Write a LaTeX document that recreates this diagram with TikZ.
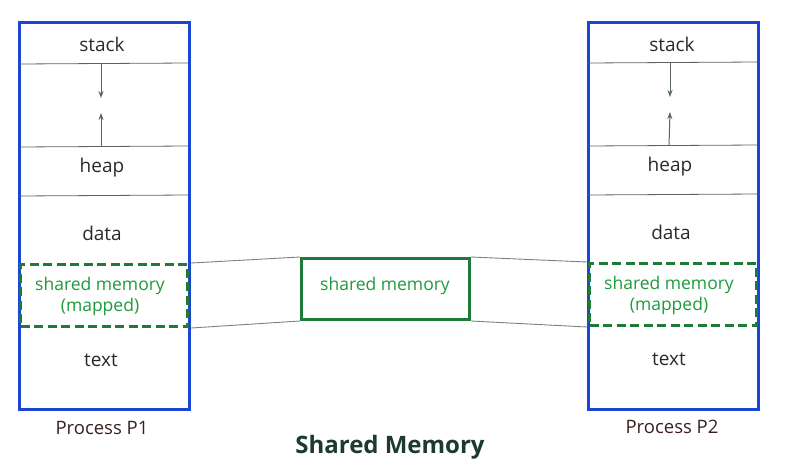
\documentclass[tikz,border=0pt]{standalone}
\usepackage{fontspec}
\setmainfont{Open Sans}
\usetikzlibrary{arrows.meta}
\definecolor{pblue}{HTML}{1A45D6}
\definecolor{sgreen}{HTML}{1E7A38}
\definecolor{tgreen}{HTML}{1E9A3A}
\definecolor{tdark}{HTML}{2A2A2A}
\definecolor{pbrown}{HTML}{3A2020}
\definecolor{ttl}{HTML}{1C3A2E}
\definecolor{sep}{HTML}{5A6460}
\tikzset{
  procbox/.style={draw=pblue, line width=3.2pt, minimum width=170pt, minimum height=387pt, anchor=north west, inner sep=0pt},
  mapbox/.style={draw=sgreen, line width=3pt, dash pattern=on 9pt off 4.5pt, minimum width=167pt, minimum height=62pt, anchor=north west, inner sep=0pt},
  shbox/.style={draw=sgreen, line width=3pt, minimum width=168pt, minimum height=61pt, anchor=north west, inner sep=0pt},
  lbl/.style={text=tdark, font=\fontsize{19}{22}\selectfont},
  glbl/.style={text=tgreen, font=\fontsize{17.5}{21}\selectfont, align=center},
  plbl/.style={text=pbrown, font=\fontsize{18.5}{22}\selectfont},
  seg/.style={draw=sep, line width=0.8pt},
  link/.style={draw=sep!80, line width=0.9pt},
  growarrow/.style={draw=sep, line width=1pt, -{Stealth[length=7pt,width=5pt]}}
}
\begin{document}
\begin{tikzpicture}[x=1pt,y=-1pt]
\useasboundingbox (0,0) rectangle (793,467);
% Process P1
\node[procbox] (p1) at (18,21) {};
\coordinate (p1s1l) at (18,64); \coordinate (p1s1r) at (188,63);
\coordinate (p1s2l) at (18,147); \coordinate (p1s2r) at (188,146);
\coordinate (p1s3l) at (18,196); \coordinate (p1s3r) at (188,195);
\draw[seg] (p1s1l) -- (p1s1r);
\draw[seg] (p1s2l) -- (p1s2r);
\draw[seg] (p1s3l) -- (p1s3r);
\node[mapbox] (p1m) at (19,263) {};
\node[lbl] (p1stack) at (102,44) {stack};
\node[lbl] (p1heap) at (102,168) {heap};
\node[lbl] (p1data) at (102,233) {data};
\node[glbl] (p1sm) at (100,296) {shared memory\\(mapped)};
\node[lbl] (p1text) at (101,360) {text};
\node[plbl] (p1lab) at (102,428) {Process P1};
\coordinate (p1a0) at (101,64); \coordinate (p1a1) at (101,98);
\coordinate (p1b0) at (101,147); \coordinate (p1b1) at (101,113);
\draw[growarrow] (p1a0) -- (p1a1);
\draw[growarrow] (p1b0) -- (p1b1);
% Process P2
\node[procbox] (p2) at (587,21) {};
\coordinate (p2s1l) at (587,63); \coordinate (p2s1r) at (757,62);
\coordinate (p2s2l) at (587,146); \coordinate (p2s2r) at (757,145);
\coordinate (p2s3l) at (587,195); \coordinate (p2s3r) at (757,194);
\draw[seg] (p2s1l) -- (p2s1r);
\draw[seg] (p2s2l) -- (p2s2r);
\draw[seg] (p2s3l) -- (p2s3r);
\node[mapbox] (p2m) at (588,262) {};
\node[lbl] (p2stack) at (672,44) {stack};
\node[lbl] (p2heap) at (670,167) {heap};
\node[lbl] (p2data) at (671,232) {data};
\node[glbl] (p2sm) at (669,295) {shared memory\\(mapped)};
\node[lbl] (p2text) at (669,359) {text};
\node[plbl] (p2lab) at (672,427) {Process P2};
\coordinate (p2a0) at (670,63); \coordinate (p2a1) at (670,97);
\coordinate (p2b0) at (669,146); \coordinate (p2b1) at (670,112);
\draw[growarrow] (p2a0) -- (p2a1);
\draw[growarrow] (p2b0) -- (p2b1);
% shared memory
\node[shbox] (sh) at (300,257) {};
\node[glbl] (shl) at (385,286) {shared memory};
\draw[link] (p1.east |- p1m.north) -- (sh.north west);
\draw[link] (p1.east |- p1m.south) -- (sh.south west);
\draw[link] (sh.north east) -- (p2.west |- p2m.north);
\draw[link] (sh.south east) -- (p2.west |- p2m.south);
% title
\node[text=ttl, font=\fontsize{24}{28}\selectfont\bfseries] (title) at (390,447) {Shared Memory};
\end{tikzpicture}
\end{document}
